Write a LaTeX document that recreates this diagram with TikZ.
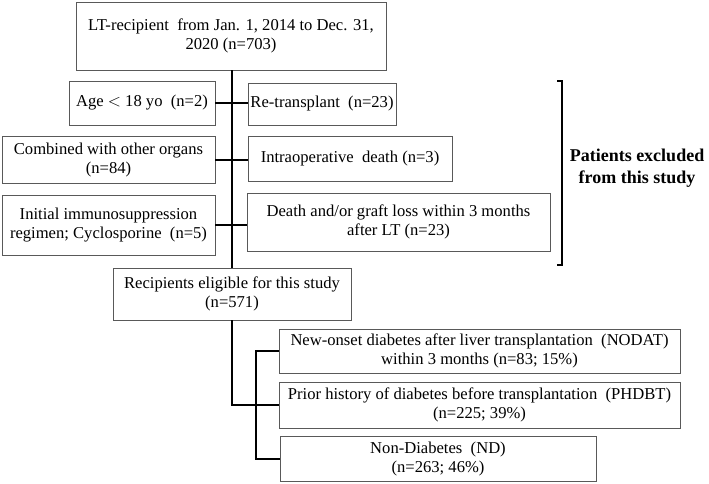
\documentclass[tikz,border=0pt]{standalone}
\usepackage{fontspec}
\setmainfont{Liberation Serif}

\tikzset{
  box/.style={draw=black!65, line width=0.8pt, align=center, inner sep=2pt,
    font=\fontsize{16.6}{18.5}\selectfont},
  link/.style={line width=1.8pt},
}

\begin{document}
\begin{tikzpicture}[x=1pt,y=-1pt]
	\useasboundingbox (0,0) rectangle (709,483);

	% cohort and exclusions
	\node[box, minimum width=310, minimum height=68] (lt) at (231,36)
		{LT-recipient~ from Jan. 1, 2014 to Dec. 31,\\ 2020 (n=703)};
	\node[box, minimum width=146, minimum height=44] (age) at (142,103) {Age $<$ 18 yo~ (n=2)};
	\node[box, minimum width=148, minimum height=42] (retrans) at (322,104) {Re-transplant~ (n=23)};
	\node[box, minimum width=213, minimum height=47] (comb) at (108.5,160)
		{Combined with other organs\\ (n=84)};
	\node[box, minimum width=204, minimum height=45] (intra) at (350,158.5) {Intraoperative~ death (n=3)};
	\node[box, minimum width=213, minimum height=60] (immuno) at (108.5,225)
		{Initial immunosuppression\\ regimen; Cyclosporine~ (n=5)};
	\node[box, minimum width=303, minimum height=58] (death) at (398.5,222)
		{Death and/or graft loss within 3 months\\ after LT (n=23)};
	\node[box, minimum width=238, minimum height=52] (elig) at (232,294)
		{Recipients eligible for this study\\ (n=571)};

	% groups
	\node[box, minimum width=401, minimum height=44] (nodat) at (479.5,351)
		{New-onset diabetes after liver transplantation~ (NODAT)\\ within 3 months (n=83; 15\%)};
	\node[box, minimum width=401, minimum height=46] (phdbt) at (479.5,405)
		{Prior history of diabetes before transplantation~ (PHDBT)\\ (n=225; 39\%)};
	\node[box, minimum width=316, minimum height=45] (nd) at (438,459)
		{Non-Diabetes~ (ND)\\ (n=263; 46\%)};

	\begin{scope}[link]
		\draw (lt.south -| elig.north) -- (elig.north);
		\draw (age.east) -- (age.east -| retrans.west);
		\draw (comb.east) -- (comb.east -| intra.west);
		\draw (immuno.east) -- (immuno.east -| death.west);
		\draw (elig.south) |- (phdbt.west);
		\draw (nodat.west) -- ++(-23,0) |- (nd.west);
	\end{scope}

	% bracket
	\coordinate (brtop) at (562,81);
	\coordinate (brbot) at (562,265);
	\draw[link] (brtop) ++(-5,0) -- (brtop) -- (brbot) -- ++(-5,0);
	\node[align=center, font=\fontsize{18}{22}\selectfont\bfseries] (excl) at (637,168)
		{Patients excluded\\ from this study};
\end{tikzpicture}
\end{document}
